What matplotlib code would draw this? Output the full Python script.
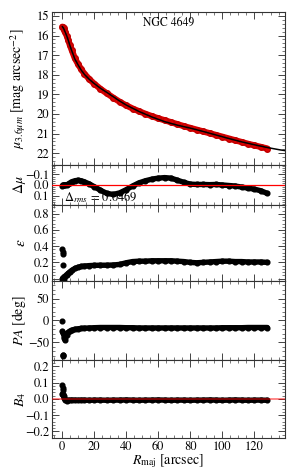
import matplotlib
matplotlib.use("Agg")
import matplotlib.pyplot as plt
from matplotlib.ticker import AutoMinorLocator, MultipleLocator

plt.rcParams['font.family'] = ['STIXGeneral', 'DejaVu Serif']
plt.rcParams['mathtext.fontset'] = 'stix'
plt.rcParams['font.size'] = 8.5

# radii [arcsec] of the isophote fits
radius = [0.3, 0.6, 1, 1.5, 2, 3, 4, 5, 6, 8, 10, 12, 14, 17, 20, 24, 28, 32, 36,
          40, 44, 48, 52, 56, 60, 64, 68, 72, 76, 80, 84, 88, 92, 96, 100, 104,
          108, 112, 116, 120, 124, 128]

mu_obs = [15.55, 15.58, 15.63, 15.72, 15.82, 16.02, 16.25, 16.5, 16.72, 17.15,
          17.45, 17.72, 17.95, 18.22, 18.45, 18.72, 18.95, 19.17, 19.38, 19.56,
          19.72, 19.86, 19.99, 20.11, 20.22, 20.32, 20.42, 20.52, 20.62, 20.71,
          20.8, 20.89, 20.98, 21.07, 21.16, 21.25, 21.34, 21.43, 21.52, 21.6,
          21.68, 21.76]

model_r = [0.3, 1, 2, 3, 4, 5, 6, 8, 10, 12, 14, 17, 20, 24, 28, 32, 36, 40, 48,
           56, 64, 72, 80, 88, 96, 104, 112, 120, 128, 136, 142]
mu_model = [15.55, 15.63, 15.82, 16.02, 16.26, 16.52, 16.75, 17.19, 17.49, 17.76,
            17.98, 18.23, 18.44, 18.69, 18.90, 19.12, 19.34, 19.54, 19.87, 20.15,
            20.39, 20.57, 20.72, 20.89, 21.07, 21.25, 21.42, 21.57, 21.71, 21.83,
            21.9]

d_mu = [0.005, 0.0, 0.0, 0.0, 0.0, 0.0, -0.01, -0.02, -0.03, -0.04, -0.045, -0.04,
        -0.03, -0.01, 0.015, 0.05, 0.08, 0.09, 0.075, 0.045, 0.01, -0.02, -0.04,
        -0.055, -0.065, -0.07, -0.065, -0.045, -0.025, -0.008, -0.005, -0.005,
        -0.003, -0.005, 0.0, 0.005, 0.01, 0.02, 0.03, 0.04, 0.055, 0.08]

# innermost isolated points
inner_r = [0.3, 0.45, 0.6, 0.8]
inner_ell = [0.36, 0.33, 0.31, 0.17]
inner_pa = [-2, -80, -78, -79]
inner_b4 = [0.085, 0.07, 0.055, 0.03]

ell = [0.0, 0.01, 0.0, 0.02, 0.03, 0.05, 0.065, 0.085, 0.1, 0.125, 0.14, 0.15,
       0.155, 0.16, 0.163, 0.165, 0.165, 0.168, 0.175, 0.195, 0.21, 0.215, 0.215,
       0.22, 0.22, 0.22, 0.22, 0.215, 0.21, 0.2, 0.195, 0.2, 0.205, 0.21, 0.215,
       0.215, 0.21, 0.21, 0.205, 0.205, 0.205, 0.2]

pa = [-25, -28, -30, -40, -45, -32, -27, -24, -22, -20, -19, -18, -17.5, -17,
      -16.5, -16, -16, -16, -16, -16.5, -16.5, -17, -17, -17, -17, -17, -17, -17,
      -17, -17, -17, -17, -17, -17, -16.5, -16.5, -16.5, -16.5, -16, -16, -16, -16]

b4 = [0.03, 0.025, 0.02, 0.005, -0.005, -0.01, -0.008, -0.008, -0.007, -0.007,
      -0.008, -0.007, -0.007, -0.008, -0.007, -0.007, -0.008, -0.007, -0.007,
      -0.006, -0.007, -0.008, -0.007, -0.007, -0.006, -0.007, -0.008, -0.007,
      -0.007, -0.008, -0.007, -0.007, -0.006, -0.007, -0.008, -0.007, -0.006,
      -0.007, -0.008, -0.007, -0.007, -0.008]

fig = plt.figure(figsize=(2.93, 4.71), dpi=100)
left, width = 0.1775, 0.795
bottoms = [0.6497, 0.5648, 0.4034, 0.2357, 0.0701]
heights = [0.3248, 0.0849, 0.1614, 0.1677, 0.1656]
axes = [fig.add_axes([left, b, width, h]) for b, h in zip(bottoms, heights)]
ax1, ax2, ax3, ax4, ax5 = axes

ms = 3.4
lw_band = 3.9
band = dict(solid_capstyle='round', solid_joinstyle='round', zorder=2)
lab_fs = 10

# surface brightness profile
ax1.plot(radius, mu_obs, 'o-', color='#e00000', mec='#c00000', ms=ms + 0.6,
         lw=lw_band + 0.6, **band)
ax1.plot(model_r, mu_model, '-', color='black', lw=1.1, zorder=3)
ax1.set_ylim(22.6, 14.8)
ax1.yaxis.set_major_locator(MultipleLocator(1))
ax1.set_ylabel(r'$\mu_{3.6\mu m}$ [mag arcsec$^{-2}$]', fontsize=lab_fs)
ax1.text(0.5, 0.965, 'NGC 4649', transform=ax1.transAxes, ha='center', va='top',
         fontsize=8.5)

# residuals
ax2.text(0.05, 0.0, r'$\Delta_{rms}$ = 0.0469', transform=ax2.transAxes,
         ha='left', va='bottom', fontsize=9, zorder=1)
ax2.plot(radius, d_mu, 'o-', color='black', ms=ms, lw=lw_band, **band)
ax2.axhline(0, color='red', lw=0.9, zorder=3)
ax2.set_ylim(0.19, -0.19)
ax2.yaxis.set_major_locator(MultipleLocator(0.1))
ax2.set_ylabel(r'$\Delta\mu$', fontsize=lab_fs)

# ellipticity
ax3.plot(radius, ell, 'o-', color='black', ms=ms, lw=lw_band, **band)
ax3.plot(inner_r, inner_ell, 'o', color='black', ms=ms, ls='none')
ax3.set_ylim(-0.03, 0.91)
ax3.yaxis.set_major_locator(MultipleLocator(0.2))
ax3.set_ylabel(r'$\epsilon$', fontsize=lab_fs + 1)

# position angle
ax4.plot(radius, pa, 'o-', color='black', ms=ms, lw=lw_band, **band)
ax4.plot(inner_r, inner_pa, 'o', color='black', ms=ms, ls='none')
ax4.set_ylim(-90, 90)
ax4.yaxis.set_major_locator(MultipleLocator(50))
ax4.set_ylabel(r'$PA$ [deg]', fontsize=lab_fs)

# B4
ax5.plot(radius, b4, 'o-', color='black', ms=ms, lw=lw_band, **band)
ax5.plot(inner_r, inner_b4, 'o', color='black', ms=ms, ls='none')
ax5.axhline(0, color='red', lw=1.2, alpha=0.55, zorder=3)
ax5.set_ylim(-0.24, 0.24)
ax5.yaxis.set_major_locator(MultipleLocator(0.1))
ax5.set_ylabel(r'$B_4$', fontsize=lab_fs)
ax5.set_xlabel(r'$R_{\rm maj}$ [arcsec]', fontsize=lab_fs, labelpad=0)

for ax in axes:
    ax.set_xlim(-6.2, 139)
    ax.xaxis.set_major_locator(MultipleLocator(20))
    ax.xaxis.set_minor_locator(MultipleLocator(5))
    ax.yaxis.set_minor_locator(AutoMinorLocator(5))
    ax.tick_params(which='both', direction='in', top=True, right=True,
                   labelsize=9, color='#444444', pad=2)
    ax.tick_params(which='major', length=5, width=0.7)
    ax.tick_params(which='minor', length=2.5, width=0.5)
    for sp in ax.spines.values():
        sp.set_linewidth(0.8)
        sp.set_color('#333333')
    ax.yaxis.set_label_coords(-0.105, 0.5)
    if ax is not ax5:
        ax.tick_params(labelbottom=False)

fig.savefig('out.png', dpi=100)
